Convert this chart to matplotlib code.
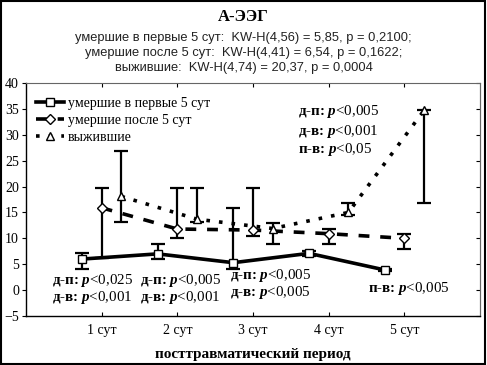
import matplotlib
matplotlib.use("Agg")
import matplotlib.pyplot as plt
from matplotlib.patches import Rectangle

plt.rcParams['font.family'] = ['Liberation Serif', 'DejaVu Serif']
plt.rcParams['mathtext.fontset'] = 'custom'
plt.rcParams['mathtext.rm'] = 'Liberation Serif'
plt.rcParams['mathtext.it'] = 'Liberation Serif:italic'
plt.rcParams['mathtext.bf'] = 'Liberation Serif:bold'
plt.rcParams['mathtext.bfit'] = 'Liberation Serif:bold:italic'

# data
days = [1, 2, 3, 4, 5]
day_labels = ['1 сут', '2 сут', '3 сут', '4 сут', '5 сут']

# died in first 5 days (squares)
early_mean = [6.0, 7.0, 5.3, 7.1, 3.9]
early_lo = [4.0, 6.1, 4.0, 6.5, 3.7]
early_hi = [7.1, 8.9, 15.9, 7.6, 4.1]

# died after 5 days (diamonds)
late_mean = [15.9, 11.8, 11.6, 10.9, 10.0]
late_lo = [6.2, 10.1, 10.5, 9.0, 8.0]
late_hi = [19.8, 19.8, 19.8, 11.9, 10.9]

# survivors (triangles)
surv_mean = [18.1, 13.7, 11.9, 15.0, 34.7]
surv_lo = [13.2, 13.2, 9.0, 14.5, 16.9]
surv_hi = [26.8, 19.8, 13.0, 16.9, 34.7]

fig = plt.figure(figsize=(4.87, 3.65), dpi=100)
ax = fig.add_axes([0.0534, 0.1342, 0.9322, 0.6384])


def draw(offset, mean, lo, hi, marker, ms, ls, label):
    x = [d + offset for d in days]
    err = [[m - l for m, l in zip(mean, lo)], [h - m for m, h in zip(mean, hi)]]
    ax.errorbar(x, mean, yerr=err, fmt='none', ecolor='black', elinewidth=1.6,
                capsize=4.8, capthick=1.6, zorder=2)
    line, = ax.plot(x, mean, color='black', lw=2.6, ls=ls, marker=marker,
                    markersize=ms, markerfacecolor='white', markeredgecolor='black',
                    markeredgewidth=1.0, label=label, zorder=3)
    return line


draw(-0.26, early_mean, early_lo, early_hi, 's', 6, '-', 'умершие в первые 5 сут')
draw(0.0, late_mean, late_lo, late_hi, 'D', 4.8, (0, (3, 3)), 'умершие после 5 сут')
draw(0.26, surv_mean, surv_lo, surv_hi, '^', 6, (0, (1, 2.5)), 'выжившие')

ax.set_xlim(0, 6)
ax.set_ylim(-5, 40)
ax.set_xticks(days)
ax.set_xticklabels(day_labels, fontsize=10)
ax.set_yticks(range(-5, 41, 5))
ax.tick_params(axis='y', direction='out', length=3, labelsize=10, pad=2)
ax.tick_params(axis='x', direction='in', length=3, top=True, pad=6)
# inward ticks on the right side
rax = ax.secondary_yaxis('right')
rax.set_yticks(range(-5, 41, 5))
rax.tick_params(direction='in', length=3, labelright=False)
rax.spines['right'].set_color('#666666')
rax.spines['right'].set_linewidth(0.8)
for s in ['top', 'right']:
    ax.spines[s].set_color('#666666')
    ax.spines[s].set_linewidth(0.8)
for s in ['left', 'bottom']:
    ax.spines[s].set_linewidth(1.0)

ax.set_xlabel('посттравматический период', fontsize=11, fontweight='bold', labelpad=8)

leg = ax.legend(loc='upper left', bbox_to_anchor=(0.01, 0.965), frameon=False,
                fontsize=10, handlelength=2.0, handletextpad=0.3, labelspacing=0.3,
                borderaxespad=0)

# significance notes
notes = [
    (0.35, 1.9, r'д-п: $\mathbfit{p}\text{<0,025}$'),
    (0.35, -1.5, r'д-в: $\mathbfit{p}\text{<0,001}$'),
    (1.51, 1.9, r'д-п: $\mathbfit{p}\text{<0,005}$'),
    (1.51, -1.5, r'д-в: $\mathbfit{p}\text{<0,001}$'),
    (2.69, 2.9, r'д-п: $\mathbfit{p}\text{<0,005}$'),
    (2.69, -0.4, r'д-в: $\mathbfit{p}\text{<0,005}$'),
    (4.52, 0.4, r'п-в: $\mathbfit{p}\text{<0,005}$'),
    (3.59, 34.4, r'д-п: $\mathbfit{p}\text{<0,005}$'),
    (3.59, 30.7, r'д-в: $\mathbfit{p}\text{<0,001}$'),
    (3.59, 27.2, r'п-в: $\mathbfit{p}\text{<0,05}$'),
]
for x, y, t in notes:
    ax.text(x, y, t, fontsize=10.8, fontweight='bold', va='center', ha='left', zorder=4)

fig.text(0.5, 0.953, 'А-ЭЭГ', ha='center', va='center', fontsize=12, fontweight='bold')
sub = ['умершие в первые 5 сут:  KW-H(4,56) = 5,85, p = 0,2100;',
       'умершие после 5 сут:  KW-H(4,41) = 6,54, p = 0,1622;',
       'выжившие:  KW-H(4,74) = 20,37, p = 0,0004']
for i, s in enumerate(sub):
    fig.text(0.5, 0.896 - i * 0.041, s, ha='center', va='center', fontsize=9.3,
             family=['Liberation Sans', 'DejaVu Sans'], color='#222222')

fig.patches.append(Rectangle((0.002, 0.003), 0.994, 0.994, transform=fig.transFigure,
                             fill=False, edgecolor='black', lw=1.5))

fig.savefig('out.png', dpi=100)
